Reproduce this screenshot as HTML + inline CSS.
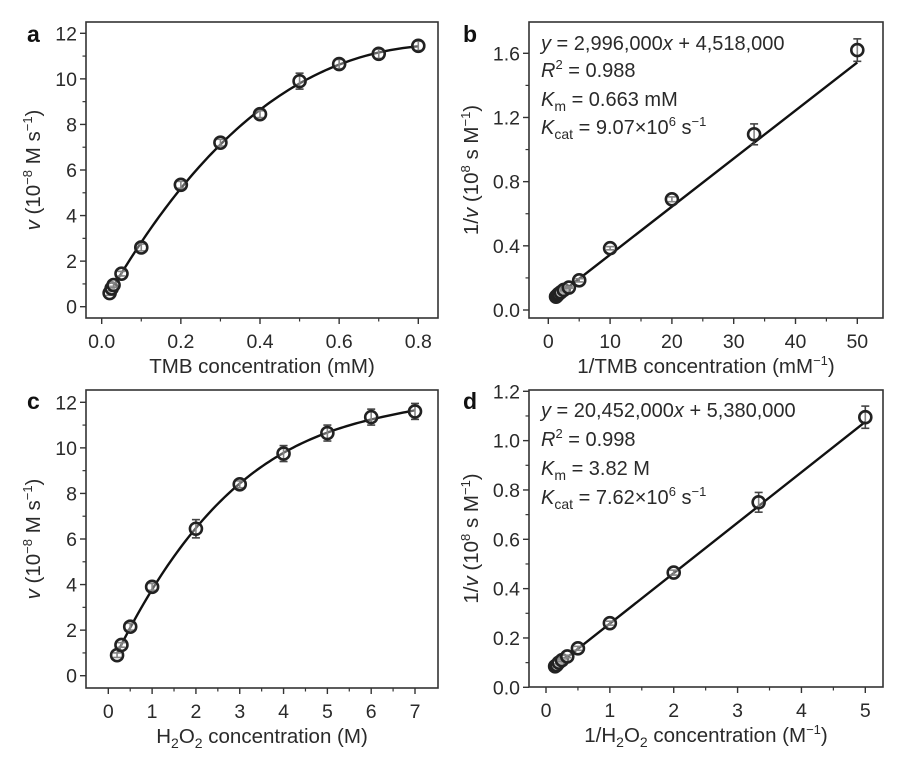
<!DOCTYPE html>
<html><head><meta charset="utf-8">
<style>
html,body{margin:0;padding:0;background:#fff;}
svg{display:block;font-family:"Liberation Sans",Arial,sans-serif;}
</style></head>
<body>
<svg id="fig" width="900" height="768" viewBox="0 0 900 768"></svg>
<script>
// ---- Panel a data ----
const aX = [0.02,0.025,0.03,0.05,0.1,0.2,0.3,0.4,0.5,0.6,0.7,0.8];
const aY = [0.6,0.8,0.95,1.45,2.6,5.35,7.2,8.45,9.9,10.65,11.1,11.45];
const aErr = [0.1,0.1,0.1,0.1,0.15,0.15,0.15,0.15,0.35,0.2,0.2,0.2];
const aXTicks = [0,0.2,0.4,0.6,0.8];
const aXTickLabels = ["0.0","0.2","0.4","0.6","0.8"];
const aYTicks = [0,2,4,6,8,10,12];
const aYTickLabels = ["0","2","4","6","8","10","12"];
// ---- Panel b data ----
const bX = [1.25,1.43,1.67,2,2.5,3.33,5,10,20,33.3,50];
const bY = [0.083,0.09,0.1,0.11,0.125,0.14,0.185,0.385,0.69,1.095,1.62];
const bErr = [0.005,0.005,0.005,0.005,0.005,0.005,0.01,0.01,0.015,0.065,0.07];
const bFit = [0.02996,0.04518];
const bXTicks = [0,10,20,30,40,50];
const bXTickLabels = ["0","10","20","30","40","50"];
const bYTicks = [0,0.4,0.8,1.2,1.6];
const bYTickLabels = ["0.0","0.4","0.8","1.2","1.6"];
// ---- Panel c data ----
const cX = [0.2,0.3,0.5,1,2,3,4,5,6,7];
const cY = [0.9,1.35,2.15,3.9,6.45,8.4,9.75,10.65,11.35,11.6];
const cErr = [0.1,0.1,0.15,0.15,0.4,0.15,0.35,0.35,0.35,0.35];
const cXTicks = [0,1,2,3,4,5,6,7];
const cXTickLabels = ["0","1","2","3","4","5","6","7"];
const cYTicks = [0,2,4,6,8,10,12];
const cYTickLabels = ["0","2","4","6","8","10","12"];
// ---- Panel d data ----
const dX = [0.143,0.167,0.2,0.25,0.333,0.5,1,2,3.33,5];
const dY = [0.085,0.09,0.1,0.11,0.125,0.158,0.26,0.465,0.75,1.095];
const dErr = [0.005,0.005,0.005,0.005,0.005,0.008,0.008,0.01,0.04,0.045];
const dFit = [0.20452,0.0538];
const dXTicks = [0,1,2,3,4,5];
const dXTickLabels = ["0","1","2","3","4","5"];
const dYTicks = [0,0.2,0.4,0.6,0.8,1.0,1.2];
const dYTickLabels = ["0.0","0.2","0.4","0.6","0.8","1.0","1.2"];

const NS="http://www.w3.org/2000/svg";
const svg=document.getElementById('fig');
function mk(tag,attrs,parent){const e=document.createElementNS(NS,tag);for(const k in attrs)e.setAttribute(k,attrs[k]);(parent||svg).appendChild(e);return e;}

function polyfit(xs,ys,deg){
  const n=deg+1,A=[],b=[];
  for(let i=0;i<n;i++){A.push(new Array(n).fill(0));b.push(0);}
  xs.forEach((x,k)=>{for(let i=0;i<n;i++){b[i]+=ys[k]*Math.pow(x,i);for(let j=0;j<n;j++)A[i][j]+=Math.pow(x,i+j);}});
  for(let i=0;i<n;i++){let p=i;for(let r=i+1;r<n;r++)if(Math.abs(A[r][i])>Math.abs(A[p][i]))p=r;
    [A[i],A[p]]=[A[p],A[i]];[b[i],b[p]]=[b[p],b[i]];
    for(let r=0;r<n;r++){if(r===i)continue;const f=A[r][i]/A[i][i];for(let c=i;c<n;c++)A[r][c]-=f*A[i][c];b[r]-=f*b[i];}}
  return b.map((v,i)=>v/A[i][i]);
}

function panel(o){
  const g=mk('g',{});
  
  
  const sx=v=>o.x0+(v-o.xd[0])/(o.xd[1]-o.xd[0])*(o.x1-o.x0);
  const sy=v=>o.y0+(v-o.yd[0])/(o.yd[1]-o.yd[0])*(o.y1-o.y0);
  const fr=mk('rect',{x:o.fl,y:o.ft,width:o.fr-o.fl,height:o.fb-o.ft,fill:'none',stroke:'#333','stroke-width':1.6},g);
  
  
  o.xt.forEach((t,i)=>{
    const x=sx(t);
    mk('line',{x1:x,x2:x,y1:o.fb,y2:o.fb+6,stroke:'#333','stroke-width':1.4},g);
    if(i<o.xt.length-1){const xm=sx((t+o.xt[i+1])/2);mk('line',{x1:xm,x2:xm,y1:o.fb,y2:o.fb+3.5,stroke:'#333','stroke-width':1.2},g);}
    const tl=mk('text',{x:x,y:o.fb+30,'font-size':19.5,'text-anchor':'middle',fill:'#2a2a2a'},g);
    tl.textContent=o.xl[i];
    
    
  });
  o.yt.forEach((t,i)=>{
    const y=sy(t);
    mk('line',{x1:o.fl,x2:o.fl-6,y1:y,y2:y,stroke:'#333','stroke-width':1.4},g);
    if(i<o.yt.length-1){const ym=sy((t+o.yt[i+1])/2);mk('line',{x1:o.fl,x2:o.fl-3.5,y1:ym,y2:ym,stroke:'#333','stroke-width':1.2},g);}
    const tl=mk('text',{x:o.fl-9,y:y+7,'font-size':19.5,'text-anchor':'end',fill:'#2a2a2a'},g);
    tl.textContent=o.yl[i];
    
    
  });
  let d='';
  const xa=o.xs[0],xb=o.xs[o.xs.length-1];
  if(o.fit){
    d='M'+sx(xa)+','+sy(o.fit[0]*xa+o.fit[1])+'L'+sx(xb)+','+sy(o.fit[0]*xb+o.fit[1]);
  } else {
    const c=polyfit(o.xs,o.ys,3);
    for(let k=0;k<=100;k++){const x=xa+(xb-xa)*k/100;let y=0;c.forEach((v,i)=>y+=v*Math.pow(x,i));d+=(k?'L':'M')+sx(x).toFixed(2)+','+sy(y).toFixed(2);}
  }
  const fl=mk('path',{d:d,fill:'none',stroke:'#111','stroke-width':2.4},g);
  
  
  o.xs.forEach((v,i)=>{
    const x=sx(v),y=sy(o.ys[i]),e=o.err[i];
    const ya=sy(o.ys[i]+e),yb=sy(o.ys[i]-e);
    mk('line',{x1:x,x2:x,y1:ya,y2:yb,stroke:'#444','stroke-width':1.6},g);
    mk('line',{x1:x-4,x2:x+4,y1:ya,y2:ya,stroke:'#444','stroke-width':1.6},g);
    mk('line',{x1:x-4,x2:x+4,y1:yb,y2:yb,stroke:'#444','stroke-width':1.6},g);
    const c=mk('circle',{cx:x,cy:y,r:6,fill:'rgba(255,255,255,0.35)',stroke:'#222','stroke-width':2.6},g);
    
    
  });
  const L=mk('text',{x:o.lx,y:o.ly,'font-size':23,'font-weight':'bold',fill:'#111'},g);
  L.textContent=o.letter;
  
  
  const xt=mk('text',{x:(o.fl+o.fr)/2,y:o.fb+55,'font-size':20.5,'text-anchor':'middle',fill:'#2a2a2a'},g);
  xt.innerHTML=o.xtitle;
  
  
  const yt=mk('text',{x:0,y:0,'font-size':20.5,'text-anchor':'middle',fill:'#2a2a2a',transform:'translate('+o.ytx+','+((o.ft+o.fb)/2)+') rotate(-90)'},g);
  yt.innerHTML=o.ytitle;
  
  
  if(o.ann){
    o.ann.forEach((s,i)=>{
      const t=mk('text',{x:o.annx,y:o.anny[i],'font-size':20,fill:'#2a2a2a'},g);
      t.innerHTML=s;
      
      
    });
  }
}
const vTitle='<tspan font-style="italic">v</tspan> (10<tspan dy="-8" font-size="13">−8</tspan><tspan dy="8"> M s</tspan><tspan dy="-8" font-size="13">−1</tspan><tspan dy="8">)</tspan>';
const invTitle='1/<tspan font-style="italic">v</tspan> (10<tspan dy="-8" font-size="13">8</tspan><tspan dy="8"> s M</tspan><tspan dy="-8" font-size="13">−1</tspan><tspan dy="8">)</tspan>';

panel({name:'panel-a',letter:'a',lx:27,ly:42,fl:86,fr:438,ft:22,fb:318,x0:101.7,x1:418.3,xd:[0,0.8],y0:306.7,y1:33.3,yd:[0,12],
  xs:aX,ys:aY,err:aErr,xt:aXTicks,xl:aXTickLabels,yt:aYTicks,yl:aYTickLabels,ytx:40,
  xtitle:'TMB concentration (mM)',ytitle:vTitle});
panel({name:'panel-b',letter:'b',lx:463,ly:42,fl:529,fr:883,ft:22,fb:318,x0:548.3,x1:857.3,xd:[0,50],y0:310,y1:53.3,yd:[0,1.6],
  xs:bX,ys:bY,err:bErr,fit:bFit,xt:bXTicks,xl:bXTickLabels,yt:bYTicks,yl:bYTickLabels,ytx:478,
  xtitle:'1/TMB concentration (mM<tspan dy="-8" font-size="13">−1</tspan><tspan dy="8">)</tspan>',ytitle:invTitle,
  annx:541,anny:[50,77,106,134],
  ann:['<tspan font-style="italic">y</tspan> = 2,996,000<tspan font-style="italic">x</tspan> + 4,518,000',
       '<tspan font-style="italic">R</tspan><tspan dy="-8" font-size="13">2</tspan><tspan dy="8"> = 0.988</tspan>',
       '<tspan font-style="italic">K</tspan><tspan dy="5" font-size="14">m</tspan><tspan dy="-5"> = 0.663 mM</tspan>',
       '<tspan font-style="italic">K</tspan><tspan dy="5" font-size="14">cat</tspan><tspan dy="-5"> = 9.07×10</tspan><tspan dy="-8" font-size="13">6</tspan><tspan dy="8"> s</tspan><tspan dy="-8" font-size="13">−1</tspan>']});
panel({name:'panel-c',letter:'c',lx:27,ly:409,fl:86,fr:438,ft:390,fb:688,x0:108.3,x1:415,xd:[0,7],y0:675.7,y1:402.3,yd:[0,12],
  xs:cX,ys:cY,err:cErr,xt:cXTicks,xl:cXTickLabels,yt:cYTicks,yl:cYTickLabels,ytx:40,
  xtitle:'H<tspan dy="5" font-size="14">2</tspan><tspan dy="-5">O</tspan><tspan dy="5" font-size="14">2</tspan><tspan dy="-5"> concentration (M)</tspan>',ytitle:vTitle});
panel({name:'panel-d',letter:'d',lx:463,ly:409,fl:529,fr:883,ft:390,fb:687,x0:546,x1:865.3,xd:[0,5],y0:687.3,y1:391.3,yd:[0,1.2],
  xs:dX,ys:dY,err:dErr,fit:dFit,xt:dXTicks,xl:dXTickLabels,yt:dYTicks,yl:dYTickLabels,ytx:478,
  xtitle:'1/H<tspan dy="5" font-size="14">2</tspan><tspan dy="-5">O</tspan><tspan dy="5" font-size="14">2</tspan><tspan dy="-5"> concentration (M</tspan><tspan dy="-8" font-size="13">−1</tspan><tspan dy="8">)</tspan>',ytitle:invTitle,
  annx:541,anny:[417,446,475,504],
  ann:['<tspan font-style="italic">y</tspan> = 20,452,000<tspan font-style="italic">x</tspan> + 5,380,000',
       '<tspan font-style="italic">R</tspan><tspan dy="-8" font-size="13">2</tspan><tspan dy="8"> = 0.998</tspan>',
       '<tspan font-style="italic">K</tspan><tspan dy="5" font-size="14">m</tspan><tspan dy="-5"> = 3.82 M</tspan>',
       '<tspan font-style="italic">K</tspan><tspan dy="5" font-size="14">cat</tspan><tspan dy="-5"> = 7.62×10</tspan><tspan dy="-8" font-size="13">6</tspan><tspan dy="8"> s</tspan><tspan dy="-8" font-size="13">−1</tspan>']});
</script>
</body></html>
